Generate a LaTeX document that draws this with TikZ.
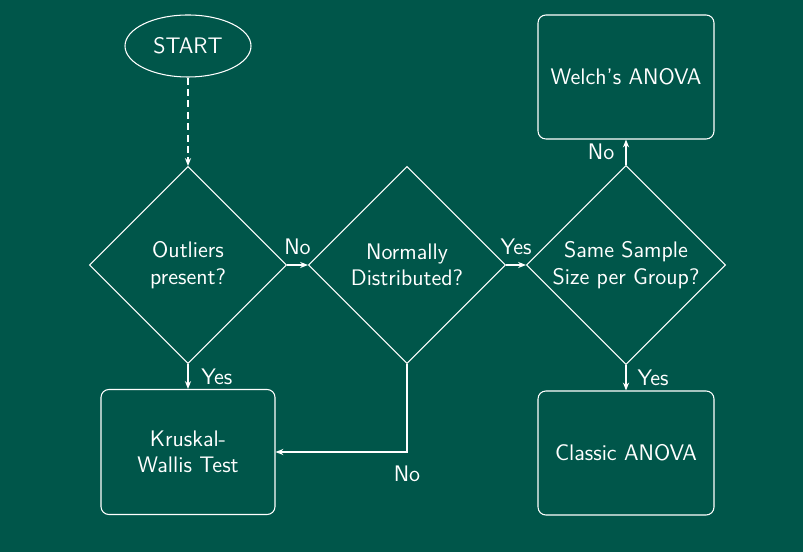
\documentclass[tikz,border=0pt]{standalone}
\usepackage{amsmath,amssymb,tikz}
\usetikzlibrary{shapes.geometric,arrows.meta}
\definecolor{boardgreen}{RGB}{0,86,74}

\begin{document}
\begin{tikzpicture}[
    every node/.style={text=white, font=\sffamily\fontsize{12.8}{15}\selectfont},
    box/.style={draw=white, line width=0.6pt, rounded corners=4.5pt, align=center},
    decision/.style={draw=white, line width=0.6pt, diamond, aspect=1, inner sep=0pt, minimum size=3.94cm, align=center},
    arr/.style={draw=white, line width=0.6pt, -{Stealth[length=4.5pt,width=3.5pt]}}
]

 % Background
    \fill[boardgreen] (0,0) rectangle (16.06,-11.04);

 % Draw the nodes
    \node[draw=white, line width=0.6pt, ellipse, minimum width=2.52cm, minimum height=1.24cm] (start) at (3.76,-0.92) {START};
    \node[decision] (outliers) at (3.76,-5.30) {Outliers\\present?}; % first question
    \node[decision] (normal) at (8.14,-5.30) {Normally\\Distributed?}; % second question
    \node[decision, minimum size=3.98cm] (samesize) at (12.52,-5.30) {Same Sample\\Size per Group?}; % third question
    \node[box, minimum width=3.48cm, minimum height=2.5cm] (kruskal) at (3.76,-9.04) {Kruskal-\\Wallis Test};
    \node[box, minimum width=3.52cm, minimum height=2.48cm] (welch) at (12.52,-1.54) {Welch's ANOVA};
    \node[box, minimum width=3.52cm, minimum height=2.48cm] (classic) at (12.52,-9.06) {Classic ANOVA};

 % Draw the arrows
    \draw[arr, dash pattern=on 4pt off 2.5pt] (start) -- (outliers);
    \draw[arr] (outliers) -- node[above, yshift=2pt] {No} (normal);
    \draw[arr] (normal) -- node[above, yshift=2pt] {Yes} (samesize);
    \draw[arr] (outliers) -- node[right, xshift=4pt] {Yes} (kruskal);
    \draw[arr] (normal.south) |- node[pos=0, below, yshift=-1.9cm] {No} (kruskal.east);
    \draw[arr] (samesize) -- node[left, xshift=-3pt] {No} (welch);
    \draw[arr] (samesize) -- node[right, xshift=3pt] {Yes} (classic);

\end{tikzpicture}
\end{document}
